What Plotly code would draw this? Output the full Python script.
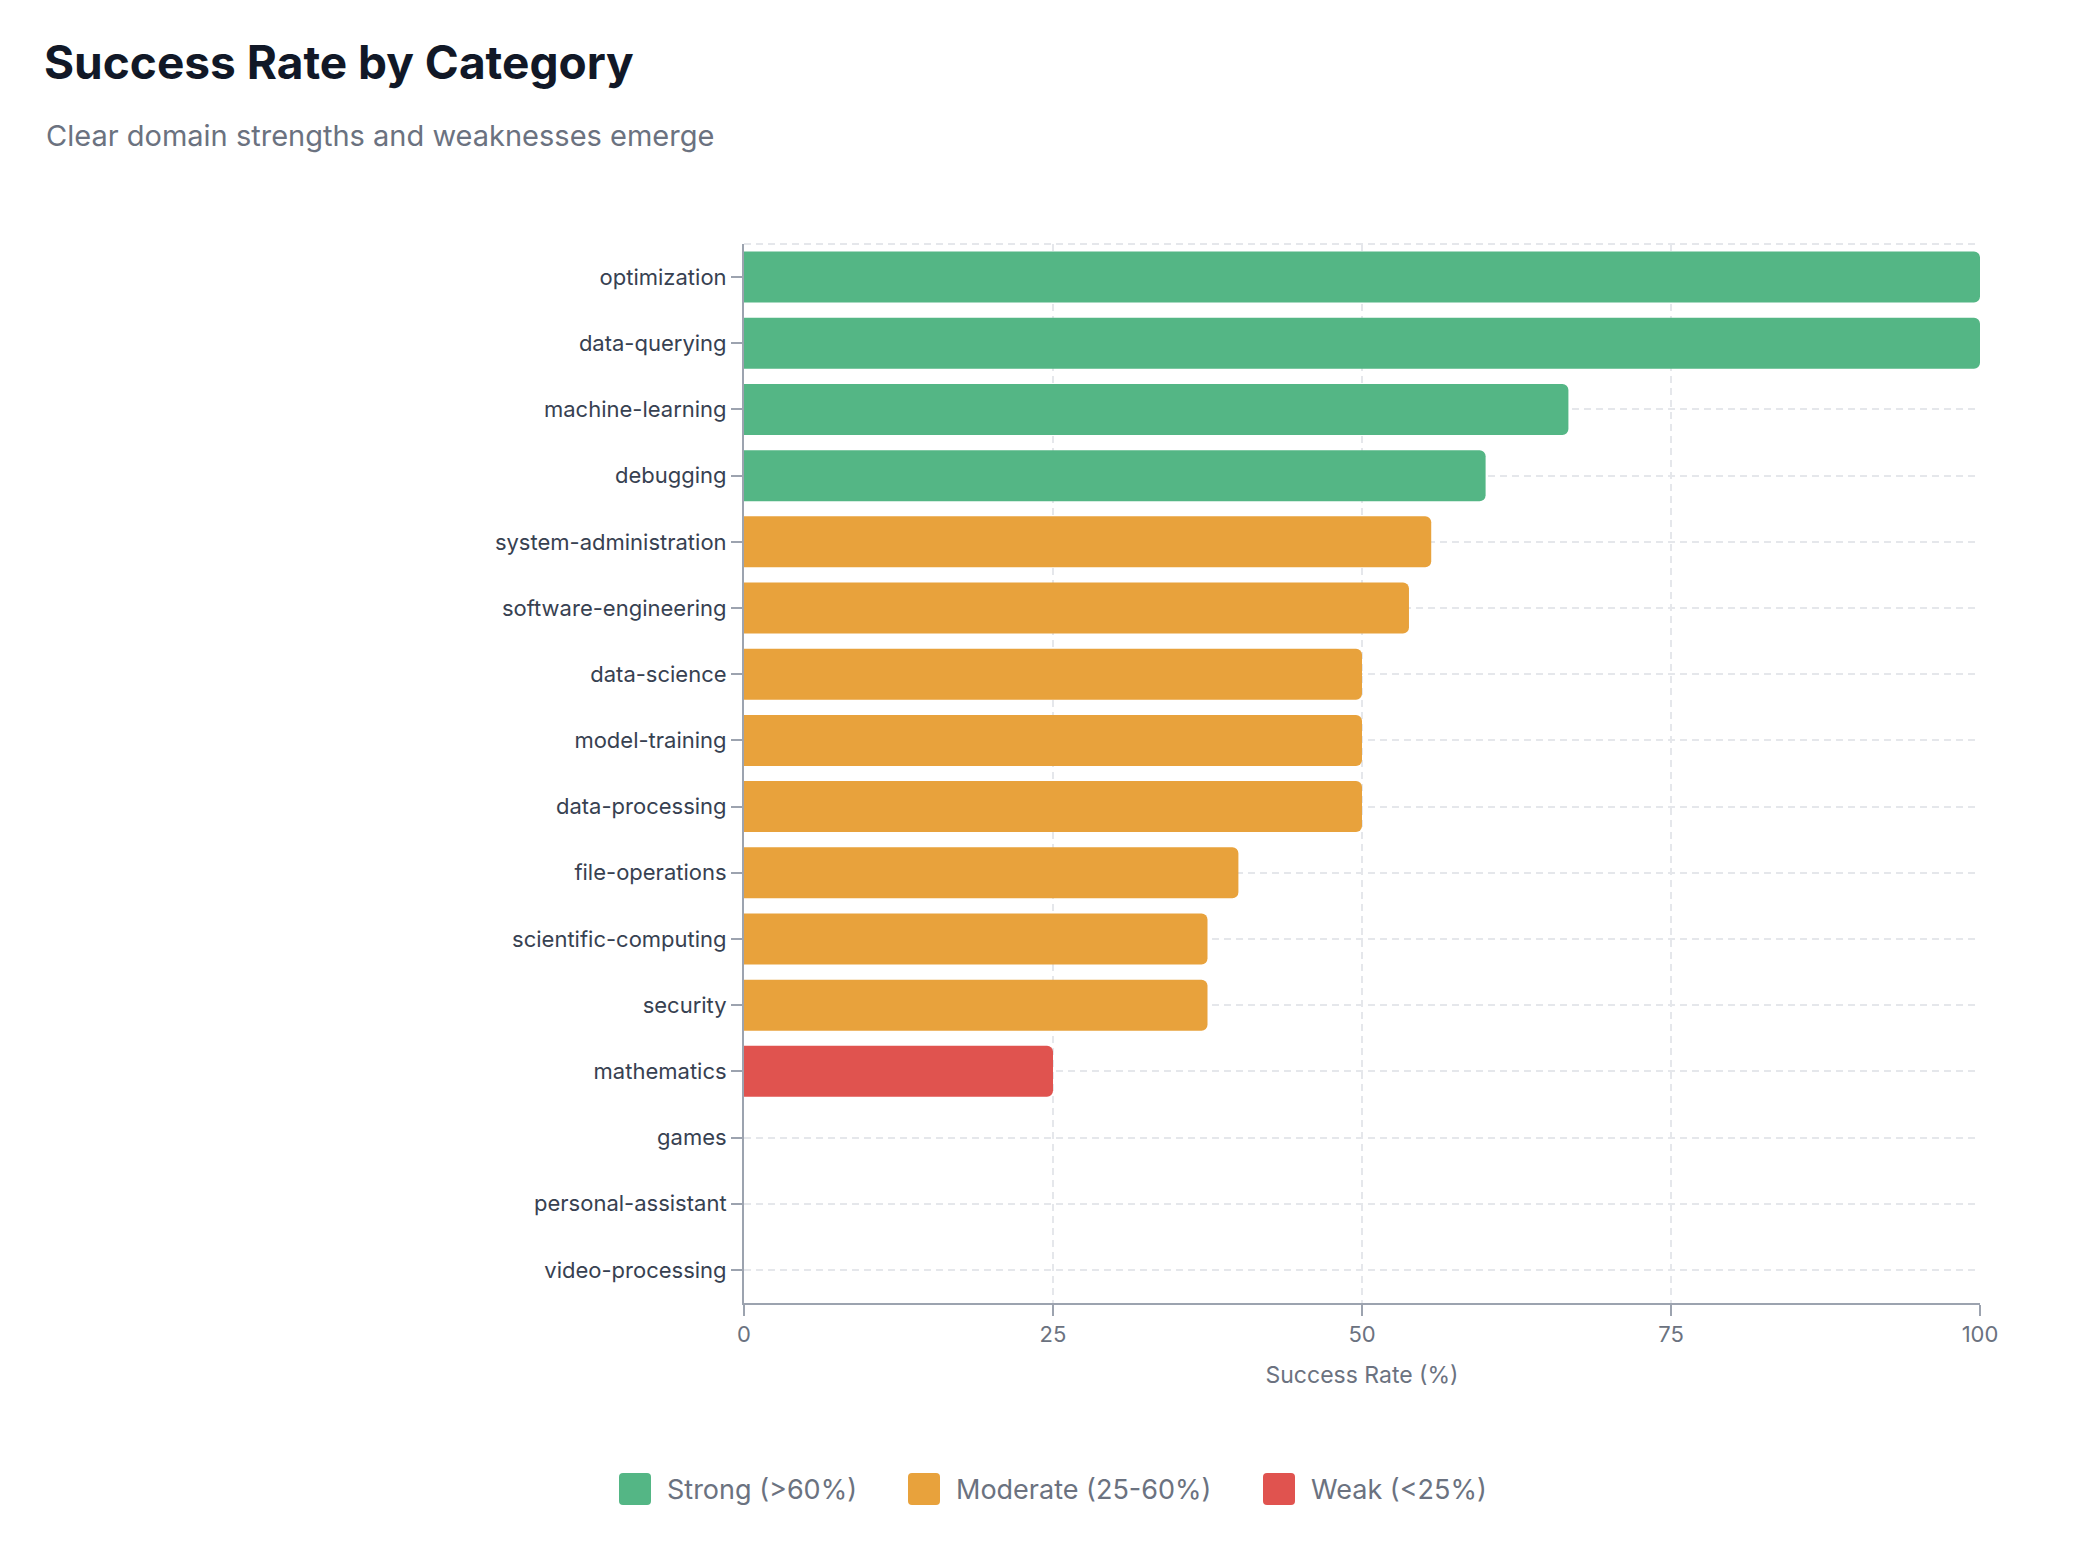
import plotly.graph_objects as go

# ---- data ----
categories = [
    "optimization", "data-querying", "machine-learning", "debugging",
    "system-administration", "software-engineering", "data-science",
    "model-training", "data-processing", "file-operations",
    "scientific-computing", "security", "mathematics", "games",
    "personal-assistant", "video-processing",
]
success_rate = [100, 100, 66.7, 60, 55.6, 53.8, 50, 50, 50, 40, 37.5, 37.5, 25, 0, 0, 0]
tier = ["Strong", "Strong", "Strong", "Strong",
        "Moderate", "Moderate", "Moderate", "Moderate", "Moderate", "Moderate",
        "Moderate", "Moderate", "Weak", "Weak", "Weak", "Weak"]
legend_tiers = ["Strong", "Moderate", "Weak"]
legend_labels = ["Strong (>60%)", "Moderate (25-60%)", "Weak (<25%)"]
x_ticks = [0, 25, 50, 75, 100]

# ---- styles ----
tier_colors = {"Strong": "#54B685", "Moderate": "#E8A23C", "Weak": "#E0534F"}
W, H = 2092, 1560
L, R, T, B = 744, 112, 244, 257
PW, PH = W - L - R, H - T - B
FONT = "Inter"


def px_x(px):
    return (px - L) / PW


def px_y(py):
    return (H - B - py) / PH


def rounded_rect_path(x0, y0, x1, y1, r):
    # x0,y0,x1,y1 and r in pixels -> SVG path in paper coords
    X = px_x
    Y = px_y
    return (
        f"M {X(x0 + r)},{Y(y0)} L {X(x1 - r)},{Y(y0)} Q {X(x1)},{Y(y0)} {X(x1)},{Y(y0 + r)} "
        f"L {X(x1)},{Y(y1 - r)} Q {X(x1)},{Y(y1)} {X(x1 - r)},{Y(y1)} "
        f"L {X(x0 + r)},{Y(y1)} Q {X(x0)},{Y(y1)} {X(x0)},{Y(y1 - r)} "
        f"L {X(x0)},{Y(y0 + r)} Q {X(x0)},{Y(y0)} {X(x0 + r)},{Y(y0)} Z"
    )


fig = go.Figure()
fig.add_trace(go.Bar(
    x=success_rate,
    y=categories,
    orientation="h",
    marker=dict(color=[tier_colors[t] for t in tier], cornerradius=6, line=dict(width=0)),
    showlegend=False,
    hoverinfo="x+y",
))

shapes = []
annotations = []
# dashed top border line
shapes.append(dict(type="line", xref="paper", yref="paper", x0=0, x1=1, y0=1, y1=1,
                   line=dict(color="#E5E7EB", width=2, dash="7px,5px"), layer="below"))

# manual legend
legend_sq_x = [619, 908, 1263]
legend_sq_size = 32
legend_cy = 1489
for t, lab, sx in zip(legend_tiers, legend_labels, legend_sq_x):
    shapes.append(dict(type="path", xref="paper", yref="paper",
                       path=rounded_rect_path(sx, legend_cy - legend_sq_size / 2,
                                              sx + legend_sq_size, legend_cy + legend_sq_size / 2, 4),
                       fillcolor=tier_colors[t], line=dict(width=0)))
    annotations.append(dict(xref="paper", yref="paper", x=px_x(sx + legend_sq_size + 14), y=px_y(legend_cy),
                            xanchor="left", yanchor="middle", showarrow=False, text=lab,
                            font=dict(family=FONT, size=27, color="#6B7280")))

# subtitle
annotations.append(dict(xref="paper", yref="paper", x=px_x(44), y=px_y(136), xanchor="left", yanchor="middle",
                        showarrow=False, text="Clear domain strengths and weaknesses emerge",
                        font=dict(family=FONT, size=29, color="#6B7280")))

fig.update_layout(
    width=W, height=H, autosize=False,
    margin=dict(l=L, r=R, t=T, b=B, pad=0),
    paper_bgcolor="white", plot_bgcolor="white",
    title=dict(text="<b>Success Rate by Category</b>", xref="container", yref="container",
               x=44 / W, xanchor="left", y=1 - 63 / H, yanchor="middle",
               font=dict(family=FONT, size=46, color="#111827")),
    font=dict(family=FONT),
    bargap=0.23,
    shapes=shapes,
    annotations=annotations,
    xaxis=dict(
        range=[0, 100], tickvals=x_ticks, ticks="outside", ticklen=11, tickwidth=2,
        tickcolor="#9CA3AF", showline=True, linecolor="#9CA3AF", linewidth=2,
        showgrid=True, gridcolor="#E5E7EB", gridwidth=2, griddash="7px,5px",
        zeroline=False, tickfont=dict(family=FONT, size=22, color="#6B7280"),
        title=dict(text="Success Rate (%)", standoff=20, font=dict(family=FONT, size=23, color="#6B7280")),
        fixedrange=True,
    ),
    yaxis=dict(
        categoryorder="array", categoryarray=categories, autorange="reversed",
        ticks="outside", ticklen=11, tickwidth=2, tickcolor="#9CA3AF",
        showline=True, linecolor="#9CA3AF", linewidth=2,
        showgrid=True, gridcolor="#E5E7EB", gridwidth=2, griddash="7px,5px",
        zeroline=False, tickfont=dict(family=FONT, size=22, color="#374151"),
        fixedrange=True,
    ),
)

fig.write_html("out.html", config={"displayModeBar": False},
               post_script="document.body.style.margin='0';")
